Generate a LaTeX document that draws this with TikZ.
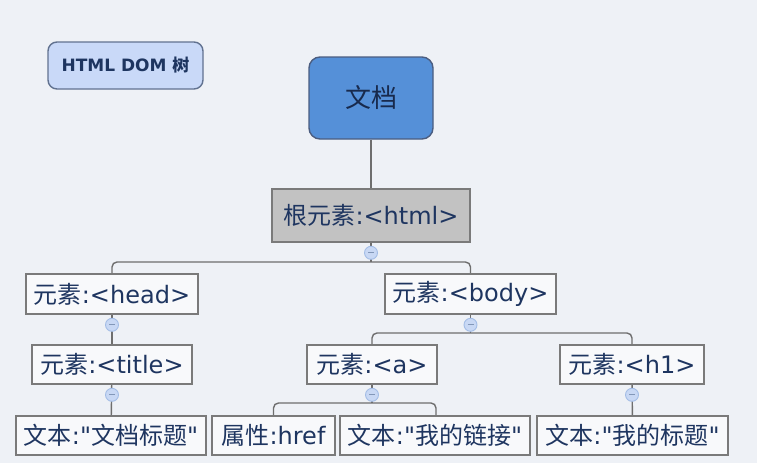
\documentclass[tikz,border=0pt]{standalone}
\usepackage{fontspec}
\setmainfont{DejaVu Sans}[Ligatures=TeXOff]
\newfontfamily\cjk{Noto Sans CJK SC}
\usepackage{xcolor}
\definecolor{bgcol}{HTML}{EEF1F6}
\definecolor{inkcol}{HTML}{1E3560}
\definecolor{edgecol}{HTML}{7A7A7A}
\definecolor{doccol}{HTML}{5590D8}
\definecolor{tagcol}{HTML}{C9D9F8}
\definecolor{rootcol}{HTML}{C2C2C2}
\definecolor{dotcol}{HTML}{C8D8F4}
\definecolor{dotedge}{HTML}{A3BDE6}

\begin{document}
\begin{tikzpicture}[x=1pt,y=-1pt,
  elem/.style={draw=edgecol, line width=1.6pt, fill=white!60!bgcol, text=inkcol,
    font=\fontsize{24}{28}\selectfont, inner sep=0pt, minimum height=39pt},
  link/.style={draw=edgecol!90!black, line width=1.4pt, rounded corners=5pt},
  fold/.style={circle, draw=dotedge, fill=dotcol, line width=0.9pt, minimum size=13pt, inner sep=0pt,
    path picture={\draw[dotedge!80!black, line width=0.8pt]
      ([xshift=-3pt]path picture bounding box.center) -- ([xshift=3pt]path picture bounding box.center);}}]
  \fill[bgcol] (0,0) rectangle (757,463);
  \useasboundingbox (0,0) rectangle (757,463);

  \node[draw=inkcol!70, line width=1.4pt, fill=tagcol, rounded corners=9pt, text=inkcol,
    minimum width=155pt, minimum height=47pt, inner sep=0pt, font=\fontsize{17}{20}\selectfont\bfseries]
    (tag) at (125.5,65.5) {HTML DOM {\cjk 树}};
  \node[draw=inkcol!80, line width=1.4pt, fill=doccol, rounded corners=11pt, text=inkcol!80!black,
    minimum width=124pt, minimum height=82pt, inner sep=0pt, font=\fontsize{26}{30}\selectfont]
    (doc) at (371,98) {\cjk 文档};
  \node[elem, fill=rootcol, minimum width=198pt, minimum height=53pt] (root) at (371,215.5) {{\cjk 根元素}:<html>};

  \node[elem, minimum width=172pt, minimum height=40pt] (head) at (112,294) {{\cjk 元素}:<head>};
  \node[elem, minimum width=171pt, minimum height=40pt] (body) at (470.5,294) {{\cjk 元素}:<body>};

  \node[elem, minimum width=160pt] (title) at (112,364.5) {{\cjk 元素}:<title>};
  \node[elem, minimum width=130pt] (a) at (372,364.5) {{\cjk 元素}:<a>};
  \node[elem, minimum width=144pt] (h1) at (632,364.5) {{\cjk 元素}:<h1>};

  \node[elem, minimum width=190pt] (ttitle) at (111,435.5) {{\cjk 文本}:"{\cjk 文档标题}"};
  \node[elem, minimum width=123pt] (href) at (273.5,435.5) {{\cjk 属性}:href};
  \node[elem, minimum width=190pt] (tlink) at (435,435.5) {{\cjk 文本}:"{\cjk 我的链接}"};
  \node[elem, minimum width=191pt] (th1) at (632.5,435.5) {{\cjk 文本}:"{\cjk 我的标题}"};

  % buses
  \coordinate (rbus) at (372,262);
  \coordinate (bbus) at (470,333);
  \coordinate (abus) at (372,403);
  \coordinate (akink) at (436,403);

  \draw[link] (doc) -- (root);
  \draw[link] (root) -- (root.south |- rbus);
  \draw[link] (head.north) |- (body.north |- rbus) -- (body.north);
  \draw[link] (head) -- (title);
  \draw[link] (title) -- (ttitle);
  \draw[link] (body) -- (body.south |- bbus);
  \draw[link] (a.north) |- (h1.north |- bbus) -- (h1.north);
  \draw[link] (a) -- (a.south |- abus);
  \draw[link] (href.north) |- (akink) -- (akink |- tlink.north);
  \draw[link] (h1) -- (th1);

  % fold markers
  \node[fold] (froot) at ([yshift=-10pt]root.south) {};
  \node[fold] (fhead) at ([yshift=-10pt]head.south) {};
  \node[fold] (fbody) at ([yshift=-10pt]body.south) {};
  \node[fold] (ftitle) at ([yshift=-10pt]title.south) {};
  \node[fold] (fa) at ([yshift=-10pt]a.south) {};
  \node[fold] (fh1) at ([yshift=-10pt]h1.south) {};
\end{tikzpicture}
\end{document}
